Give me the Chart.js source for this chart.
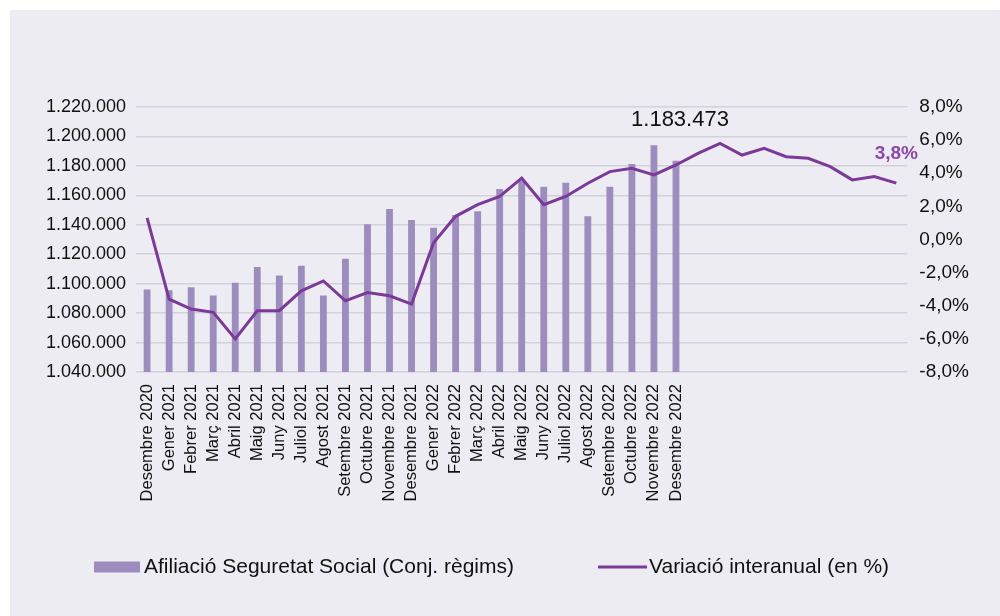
<!DOCTYPE html>
<html>
<head>
<meta charset="utf-8">
<script src="https://cdn.jsdelivr.net/npm/chart.js@4.4.1/dist/chart.umd.min.js"></script>
<style>
  body { margin: 0; background: #ffffff; }
  #wrap { position: absolute; left: 10px; top: 10px; width: 990px; height: 606px; background: #edecf3; }
</style>
</head>
<body>
<div id="wrap"><canvas id="afiliacioChart"></canvas></div>
<script>
// Mesos amb barra d'afiliació
const mesos = ['Desembre 2020', 'Gener 2021', 'Febrer 2021', 'Març 2021', 'Abril 2021', 'Maig 2021',
    'Juny 2021', 'Juliol 2021', 'Agost 2021', 'Setembre 2021', 'Octubre 2021', 'Novembre 2021',
    'Desembre 2021', 'Gener 2022', 'Febrer 2022', 'Març 2022', 'Abril 2022', 'Maig 2022',
    'Juny 2022', 'Juliol 2022', 'Agost 2022', 'Setembre 2022', 'Octubre 2022', 'Novembre 2022',
    'Desembre 2022'];
// Mesos sense etiqueta on només continua la línia
const mesosSenseEtiqueta = ['', '', '', '', '', '', '', '', '', ''];

// Afiliació Seguretat Social (Conj. règims)
const afiliacio = [1096000, 1095500, 1097500, 1092000, 1100700, 1111300, 1105600, 1112200,
    1092000, 1116900, 1140400, 1150800, 1143300, 1137900, 1146700, 1149200, 1164300, 1169700,
    1165800, 1168600, 1145800, 1165800, 1181200, 1194100, 1183473];

// Variació interanual (en %)
const variacio = [1.3, -3.6, -4.2, -4.4, -6.0, -4.3, -4.3, -3.1, -2.5, -3.7, -3.2, -3.4, -3.9,
    -0.2, 1.4, 2.1, 2.6, 3.7, 2.1, 2.6, 3.4, 4.1, 4.3, 3.9, 4.5, 5.2, 5.8, 5.1, 5.5, 5.0, 4.9,
    4.4, 3.6, 3.8, 3.4];

const etiquetaBarra = 24;   // índex de la barra amb valor
const etiquetaLinia = 33;   // índex del punt amb valor

const FONT = '"Liberation Sans", Arial, sans-serif';
const fmtMiles = v => Math.round(v).toString().replace(/\B(?=(\d{3})+(?!\d))/g, '.');
const fmtPct = v => v.toFixed(1).replace('.', ',') + '%';

// Etiquetes de valor i llegenda dibuixades sobre la gràfica
const etiquetesPlugin = {
    id: 'etiquetes',
    afterDatasetsDraw(chart) {
        const ctx = chart.ctx;
        const barMeta = chart.getDatasetMeta(1);
        const lineMeta = chart.getDatasetMeta(0);
        ctx.save();
        const bar = barMeta.data[etiquetaBarra];
        ctx.font = '22px ' + FONT;
        ctx.fillStyle = '#111111';
        ctx.textAlign = 'center';
        ctx.textBaseline = 'bottom';
        ctx.fillText(fmtMiles(afiliacio[etiquetaBarra]), bar.x + 4, bar.y - 30);
        const pt = lineMeta.data[etiquetaLinia];
        ctx.font = 'bold 19px ' + FONT;
        ctx.fillStyle = '#8a48a8';
        ctx.fillText(fmtPct(variacio[etiquetaLinia]), pt.x + 22, pt.y - 13);
        ctx.restore();
    },
    afterDraw(chart) {
        const ctx = chart.ctx;
        const ds = chart.data.datasets;
        const y = 557;
        ctx.save();
        ctx.font = '21px ' + FONT;
        ctx.textAlign = 'left';
        ctx.textBaseline = 'middle';
        // barra
        ctx.fillStyle = ds[1].backgroundColor;
        ctx.fillRect(84, y - 5.5, 46, 11);
        ctx.fillStyle = '#111111';
        ctx.fillText(ds[1].label, 134, y);
        // línia
        ctx.strokeStyle = ds[0].borderColor;
        ctx.lineWidth = 3;
        ctx.beginPath();
        ctx.moveTo(588, y);
        ctx.lineTo(637, y);
        ctx.stroke();
        ctx.fillText(ds[0].label, 639, y);
        ctx.restore();
    }
};

const chart = new Chart(document.getElementById('afiliacioChart'), {
    type: 'bar',
    data: {
        labels: mesos.concat(mesosSenseEtiqueta),
        datasets: [
            {
                type: 'line',
                label: 'Variació interanual (en %)',
                data: variacio,
                yAxisID: 'y1',
                borderColor: '#7b3a98',
                backgroundColor: '#7b3a98',
                borderWidth: 3,
                pointRadius: 0,
                tension: 0
            },
            {
                label: 'Afiliació Seguretat Social (Conj. règims)',
                data: afiliacio,
                yAxisID: 'y',
                backgroundColor: '#9d8dbf',
                borderWidth: 0,
                categoryPercentage: 1,
                barPercentage: 0.31
            }
        ]
    },
    options: {
        responsive: true,
        maintainAspectRatio: false,
        animation: false,
        layout: { padding: { top: 97, left: 26, right: 19, bottom: 104 } },
        plugins: {
            tooltip: { enabled: false },
            legend: { display: false }
        },
        scales: {
            x: {
                grid: { display: false, drawTicks: false },
                border: { display: false },
                ticks: {
                    autoSkip: false,
                    maxRotation: 90,
                    minRotation: 90,
                    padding: 12,
                    color: '#111111',
                    font: { family: FONT, size: 16.5 }
                },
                afterFit(scale) { scale.height = 140; }
            },
            y: {
                position: 'left',
                min: 1040000,
                max: 1220000,
                grid: { color: '#d3d2da', lineWidth: 1.5, drawTicks: false },
                border: { display: false },
                ticks: {
                    stepSize: 20000,
                    padding: 10,
                    color: '#111111',
                    font: { family: FONT, size: 18 },
                    callback: v => fmtMiles(v)
                }
            },
            y1: {
                position: 'right',
                min: -8,
                max: 8,
                grid: { display: false, drawTicks: false },
                border: { display: false },
                ticks: {
                    stepSize: 2,
                    padding: 12,
                    color: '#111111',
                    font: { family: FONT, size: 19 },
                    callback: v => fmtPct(v)
                }
            }
        }
    },
    plugins: [etiquetesPlugin]
});
</script>
</body>
</html>
